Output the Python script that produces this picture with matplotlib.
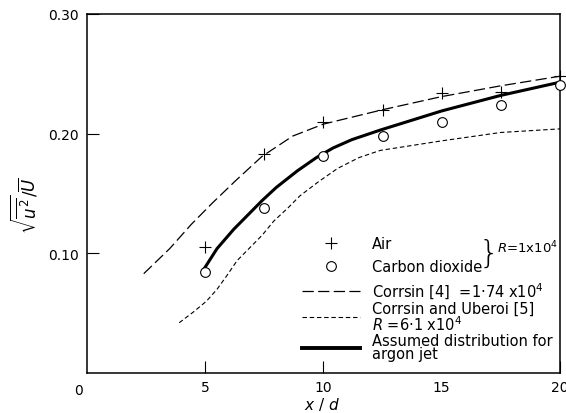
#!/usr/bin/env python3
# -*- coding: utf-8 -*-

import matplotlib
matplotlib.use('Agg')
import matplotlib.pyplot as plt
from matplotlib.lines import Line2D

# measured points, x/d
air_x = [5, 7.5, 10, 12.5, 15, 17.5, 20]
air_y = [0.105, 0.183, 0.210, 0.220, 0.234, 0.235, 0.248]
co2_x = [5, 7.5, 10, 12.5, 15, 17.5, 20]
co2_y = [0.084, 0.138, 0.181, 0.198, 0.210, 0.224, 0.241]

# Corrsin [4], long dashes
corrsin_x = [2.4, 3.5, 4.4, 5.3, 6.3, 7.4, 8.7, 10, 12.5, 15, 17.5, 20]
corrsin_y = [0.083, 0.104, 0.124, 0.142, 0.161, 0.181, 0.198, 0.208, 0.220, 0.231, 0.240, 0.248]

# Corrsin and Uberoi [5], short dashes
uberoi_x = [3.9, 4.5, 5.05, 5.5, 5.9, 6.35, 6.8, 7.4, 7.9, 8.5, 9.0, 9.8, 10.6, 11.5, 12.4, 15, 17.5, 20]
uberoi_y = [0.042, 0.051, 0.060, 0.070, 0.081, 0.094, 0.103, 0.115, 0.127, 0.138, 0.148, 0.160,
            0.171, 0.180, 0.186, 0.194, 0.201, 0.204]

# assumed distribution for argon jet
argon_x = [4.95, 5.5, 6.2, 6.9, 7.4, 8.0, 8.9, 9.7, 10.4, 11.2, 12.4, 15, 17.5, 20]
argon_y = [0.087, 0.104, 0.120, 0.134, 0.144, 0.155, 0.169, 0.180, 0.188, 0.195, 0.203, 0.219,
           0.232, 0.243]

x_ticks = [5, 10, 15, 20]
x_labels = ['5', '10', '15', '20']
y_ticks = [0.10, 0.20, 0.30]
y_labels = ['0.10', '0.20', '0.30']

point_labels = ['Air', 'Carbon dioxide']
line_labels = [
    'Corrsin [4]  =1·74 x10$^4$',
    'Corrsin and Uberoi [5]\n$R$ =6·1 x10$^4$',
    'Assumed distribution for\nargon jet',
]


def plot():
    plt.rcParams['font.family'] = ['DejaVu Sans']
    fig = plt.figure(figsize=(5.66, 4.14), dpi=100)
    ax = fig.add_axes([0.1537, 0.0966, 0.8357, 0.8672])

    ax.plot(corrsin_x, corrsin_y, color='black', linewidth=0.9, dashes=(9, 3.5))
    ax.plot(uberoi_x, uberoi_y, color='black', linewidth=0.8, dashes=(4, 2.5))
    ax.plot(argon_x, argon_y, color='black', linewidth=2.2, solid_capstyle='butt')
    ax.plot(air_x, air_y, linestyle='none', marker='+', markersize=8,
            markeredgewidth=0.8, color='black', clip_on=False)
    ax.plot(co2_x, co2_y, linestyle='none', marker='o', markersize=7,
            markerfacecolor='white', markeredgecolor='black', markeredgewidth=0.8,
            clip_on=False, zorder=5)

    ax.set_xlim(0, 20)
    ax.set_ylim(0, 0.30)
    ax.set_xticks(x_ticks)
    ax.set_xticklabels(x_labels)
    ax.set_yticks(y_ticks)
    ax.set_yticklabels(y_labels)
    ax.tick_params(direction='in', length=8.5, width=0.8, labelsize=10)
    ax.tick_params(axis='x', pad=5)
    ax.tick_params(axis='y', pad=6)
    ax.xaxis.get_major_ticks()[2].tick1line.set_visible(False)
    for s in ax.spines.values():
        s.set_linewidth(1.1)

    ax.text(-0.017, -0.027, '0', transform=ax.transAxes, ha='center', va='top', fontsize=10)
    ax.set_xlabel('$x\\ /\\ d$', fontsize=11)
    ax.xaxis.set_label_coords(0.497, -0.062)
    ax.set_ylabel('$\\sqrt{\\overline{u^2}}/\\overline{U}$', fontsize=12)
    ax.yaxis.set_label_coords(-0.10, 0.47)

    leg_kw = dict(frameon=False, fontsize=10.5, handlelength=3.95, handletextpad=0.8,
                  borderpad=0.3, borderaxespad=0.0)

    point_handles = [
        Line2D([], [], linestyle='none', marker='+', markersize=8, markeredgewidth=0.8, color='black'),
        Line2D([], [], linestyle='none', marker='o', markersize=7, markerfacecolor='white',
               markeredgecolor='black', markeredgewidth=0.8),
    ]
    leg1 = ax.legend(point_handles, point_labels, loc='center left', bbox_to_anchor=(0.446, 0.329),
                     labelspacing=0.58, **leg_kw)
    ax.add_artist(leg1)

    line_handles = [
        Line2D([], [], color='black', linewidth=0.9, dashes=(9, 3.5)),
        Line2D([], [], color='black', linewidth=0.8, dashes=(4, 2.5)),
        Line2D([], [], color='black', linewidth=2.8),
    ]
    leg2 = ax.legend(line_handles, line_labels, loc='lower left', bbox_to_anchor=(0.446, 0.02),
                     labelspacing=0.0, **leg_kw)
    for t in leg2.get_texts():
        t.set_linespacing(0.9)

    ax.text(0.849, 0.335, '}', transform=ax.transAxes, fontsize=23, ha='center', va='center',
            fontweight='light')
    ax.text(0.866, 0.35, '$R$=1x10$^4$', transform=ax.transAxes, fontsize=9.5, ha='left', va='center')

    plt.savefig('out.png', dpi=100)


if __name__ == '__main__':
    plot()
